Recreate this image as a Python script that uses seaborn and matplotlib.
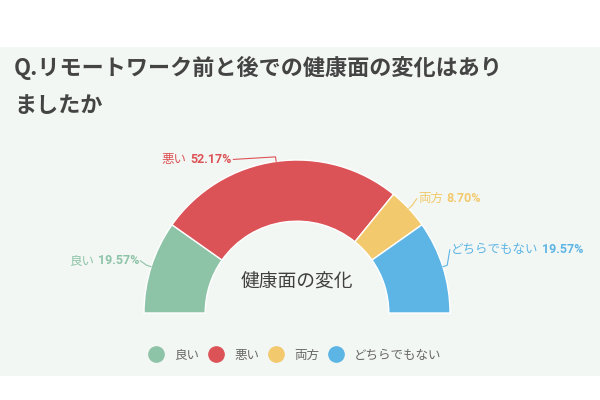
import matplotlib.pyplot as plt
import seaborn as sns
import numpy as np
from matplotlib.patches import Rectangle
from matplotlib.lines import Line2D

plt.switch_backend("agg")

# data
categories = ["良い", "悪い", "両方", "どちらでもない"]
shares = [19.57, 52.17, 8.70, 19.57]
colors = ["#8dc3a7", "#dc5357", "#f2c96c", "#5db5e5"]
title_lines = ["Q.リモートワーク前と後での健康面の変化はあり", "ましたか"]
center_label = "健康面の変化"

sns.set_theme(style="white")
plt.rcParams["font.family"] = ["Noto Sans CJK JP", "DejaVu Sans"]

W, H = 600, 400
cx, cy, R = 297, 313, 153  # centre of the half donut and outer radius in pixels


def px(x, y):
    # pixel position (from top-left) -> data coordinates of the pie axes
    return (x - cx) / R, (cy - y) / R


fig = plt.figure(figsize=(6, 4), dpi=100)
fig.patch.set_facecolor("white")
fig.patches.append(
    Rectangle((0, 1 - 376 / H), 1, (376 - 47) / H, transform=fig.transFigure,
              facecolor="#f3f7f4", edgecolor="none", zorder=-10)
)

# title
fig.text(14 / W, 1 - 68 / H, title_lines[0], fontsize=15.9, fontweight="bold",
         color="#444444", va="center", ha="left")
fig.text(14 / W, 1 - 105 / H, title_lines[1], fontsize=15.9, fontweight="bold",
         color="#444444", va="center", ha="left")

ax = fig.add_axes([0, 0, 1, 1])
ax.patch.set_alpha(0)

# half donut: add an invisible half for the lower part
values = shares + [sum(shares)]
wedges, _ = ax.pie(
    values,
    colors=colors + ["white"],
    startangle=180,
    counterclock=False,
    radius=1,
    wedgeprops=dict(width=0.4, edgecolor="white", linewidth=1),
)
wedges[-1].set_visible(False)
ax.set_xlim(-cx / R, (W - cx) / R)
ax.set_ylim(-(H - cy) / R, cy / R)
ax.set_aspect("auto")
ax.axis("off")

ax.text(*px(297, 282), center_label, fontsize=13.5, color="#404040",
        ha="center", va="center")

# labels with leader lines (offsets in pixels from the wedge edge)
label_offsets = [(-11, -6, "right"), (-43, -2, "right"), (8, -10, "left"), (7, -17, "left")]
fig.canvas.draw()
renderer = fig.canvas.get_renderer()
for w, cat, val, col, (dx, dy, ha) in zip(wedges, categories, shares, colors, label_offsets):
    mid = np.deg2rad((w.theta1 + w.theta2) / 2)
    ax_x, ax_y = np.cos(mid), np.sin(mid)
    bx, by = 1.03 * ax_x, 1.03 * ax_y
    lx, ly = ax_x + dx / R, ax_y - dy / R
    ax.plot([ax_x, bx, lx], [ax_y, by, ly], color=col, lw=0.8)
    gap = 4 / R
    val_txt = f"{val:.2f}%"
    if ha == "right":
        tv = ax.text(lx - 1 / R, ly, val_txt, fontsize=9, fontweight="bold", color=col,
                     ha="right", va="center", family=["Roboto", "Noto Sans CJK JP"])
        wv = tv.get_window_extent(renderer).width / R
        ax.text(lx - 1 / R - wv - gap, ly, cat, fontsize=9, color=col,
                ha="right", va="center")
    else:
        tn = ax.text(lx + 1 / R, ly, cat, fontsize=9, color=col, ha="left", va="center")
        wn = tn.get_window_extent(renderer).width / R
        ax.text(lx + 1 / R + wn + gap, ly, val_txt, fontsize=9, fontweight="bold",
                color=col, ha="left", va="center", family=["Roboto", "Noto Sans CJK JP"])

# legend
handles = [Line2D([0], [0], marker="o", linestyle="none", markersize=11,
                  markerfacecolor=c, markeredgecolor=c) for c in colors]
leg = fig.legend(handles, categories, loc="center", bbox_to_anchor=(0.492, 1 - 355 / H),
                 ncol=4, frameon=False, fontsize=9, handlelength=1.2,
                 handletextpad=0.8, columnspacing=0.8)
for t in leg.get_texts():
    t.set_color("#666666")

plt.savefig("out.png", dpi=100, facecolor=fig.get_facecolor())
plt.close()
